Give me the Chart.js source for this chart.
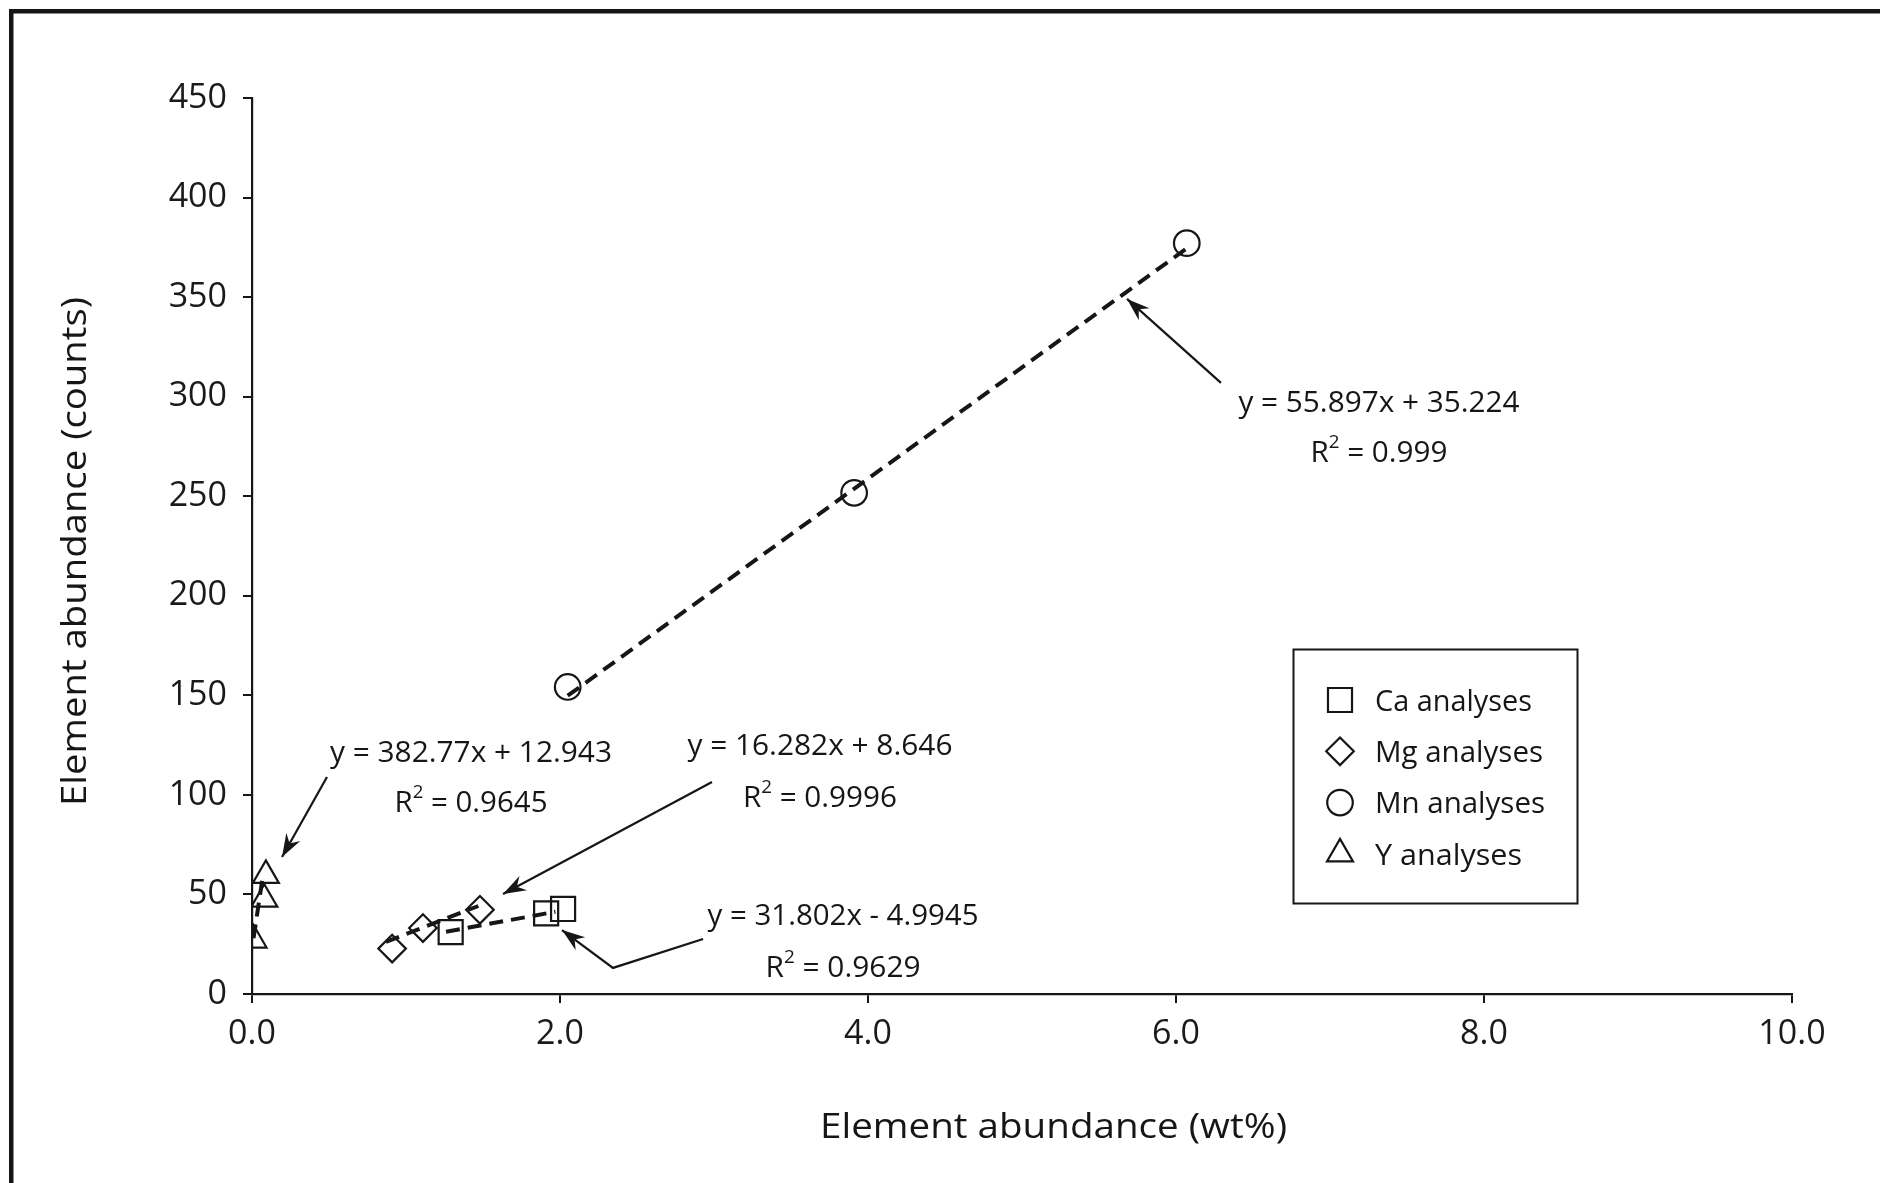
<!DOCTYPE html>
<html>
<head>
<meta charset="utf-8">
<title>Element abundance calibration</title>
<script src="https://cdn.jsdelivr.net/npm/chart.js@4/dist/chart.umd.min.js"></script>
<style>
  html, body { margin: 0; padding: 0; background: #fff; }
  #wrap { position: relative; width: 1880px; height: 1183px; }
</style>
</head>
<body>
<div id="wrap"><canvas id="chart"></canvas></div>
<script>
// analyses (wt%, counts)
const caX = [1.29, 1.91, 2.02];
const caY = [31.1, 40.5, 42.7];
const mgX = [0.91, 1.11, 1.48];
const mgY = [22.8, 33.1, 42.3];
const mnX = [2.05, 3.91, 6.07];
const mnY = [154.2, 251.7, 377.1];
const yX = [0.01, 0.08, 0.09];
const yY = [27.1, 47.6, 59.6];

// trendline end points as drawn
const caFitX = [1.26, 1.97];
const caFitY = [31.3, 41.3];
const mgFitX = [0.87, 1.47];
const mgFitY = [26.2, 44.2];
const mnFitX = [2.05, 6.07];
const mnFitY = [149.8, 374.5];
const yFitX = [0.01, 0.07];
const yFitY = [28, 59];

const xTicks = [0, 2, 4, 6, 8, 10];
const yTicks = [0, 50, 100, 150, 200, 250, 300, 350, 400, 450];

const seriesNames = ['Ca analyses', 'Mg analyses', 'Mn analyses', 'Y analyses'];

// regression labels: Y, Mg, Ca, Mn
const eqLines = ['y = 382.77x + 12.943', 'y = 16.282x + 8.646', 'y = 31.802x - 4.9945', 'y = 55.897x + 35.224'];
const r2Values = ['0.9645', '0.9996', '0.9629', '0.999'];

// where the labels and arrows sit (data units), and text widths in px
const noteLayout = [
  { cx: 1.422, base: [116.5, 91.4], w: [282, 153], arrow: [[0.487, 109.0], [0.195, 68.8]] },
  { cx: 3.688, base: [120.0, 93.9], w: [265, 154], arrow: [[2.987, 106.5], [1.630, 50.2]] },
  { cx: 3.838, base: [34.7, 8.5], w: [271, 155], arrow: [[2.929, 27.6], [2.344, 13.1], [2.013, 32.1]] },
  { cx: 7.318, base: [292.3, 267.2], w: [281, 137], arrow: [[6.292, 306.9], [5.682, 349.1]] }
];

const FONT = '"Open Sans", "Noto Sans", sans-serif';
const INK = '#161616';

const zip = (xs, ys) => xs.map((x, i) => ({ x: x, y: ys[i] }));

function markerSet(label, xs, ys, style, r) {
  return {
    label: label,
    data: zip(xs, ys),
    pointStyle: style,
    pointRadius: r,
    pointBorderWidth: 2.2,
    borderColor: INK,
    backgroundColor: 'rgba(0,0,0,0)',
    showLine: false
  };
}

function fitSet(xs, ys, width) {
  return {
    data: zip(xs, ys),
    showLine: true,
    borderColor: INK,
    borderWidth: width,
    borderDash: [14, 8],
    pointRadius: 0,
    fill: false
  };
}

// draws text runs (superscript aware), squeezed to a target width
function drawRuns(ctx, runs, cx, base, target) {
  let total = 0;
  runs.forEach(r => { ctx.font = r.size + 'px ' + FONT; r.w = ctx.measureText(r.t).width; total += r.w; });
  const k = target ? target / total : 1;
  ctx.save();
  ctx.translate(cx, base);
  ctx.scale(k, 1);
  ctx.textAlign = 'left';
  ctx.textBaseline = 'alphabetic';
  let x = -total / 2;
  runs.forEach(r => {
    ctx.font = r.size + 'px ' + FONT;
    ctx.fillText(r.t, x, -(r.rise || 0));
    x += r.w;
  });
  ctx.restore();
}

function arrowPath(ctx, pts) {
  ctx.beginPath();
  ctx.moveTo(pts[0][0], pts[0][1]);
  for (let i = 1; i < pts.length; i++) ctx.lineTo(pts[i][0], pts[i][1]);
  ctx.lineWidth = 2.2;
  ctx.stroke();
  const [tx, ty] = pts[pts.length - 1];
  const [fx, fy] = pts[pts.length - 2];
  const a = Math.atan2(ty - fy, tx - fx);
  const len = 23, half = 8;
  const bx = tx - len * Math.cos(a), by = ty - len * Math.sin(a);
  const nx = tx - len * 0.68 * Math.cos(a), ny = ty - len * 0.68 * Math.sin(a);
  ctx.beginPath();
  ctx.moveTo(tx, ty);
  ctx.lineTo(bx + half * Math.sin(a), by - half * Math.cos(a));
  ctx.lineTo(nx, ny);
  ctx.lineTo(bx - half * Math.sin(a), by + half * Math.cos(a));
  ctx.closePath();
  ctx.fill();
}

const decorations = {
  id: 'decorations',
  afterDraw(chart) {
    const ctx = chart.ctx;
    const xs = chart.scales.x, ys = chart.scales.y;
    ctx.save();
    ctx.fillStyle = INK;
    ctx.strokeStyle = INK;

    // frame (top and left edges only)
    ctx.fillRect(9, 9, chart.width - 9, 4.5);
    ctx.fillRect(9, 9, 4.5, chart.height - 9);

    // axis titles
    drawRuns(ctx, [{ t: 'Element abundance (wt%)', size: 34 }], 1053.5, 1138, 467);
    ctx.save();
    ctx.translate(86, 551.5);
    ctx.rotate(-Math.PI / 2);
    drawRuns(ctx, [{ t: 'Element abundance (counts)', size: 34 }], 0, 0, 509);
    ctx.restore();

    // regression labels + arrows
    noteLayout.forEach((n, i) => {
      const cx = xs.getPixelForValue(n.cx);
      drawRuns(ctx, [{ t: eqLines[i], size: 30 }], cx, ys.getPixelForValue(n.base[0]), n.w[0]);
      drawRuns(ctx, [
        { t: 'R', size: 30 },
        { t: '2', size: 19, rise: 14 },
        { t: ' = ' + r2Values[i], size: 30 }
      ], cx, ys.getPixelForValue(n.base[1]), n.w[1]);
      arrowPath(ctx, n.arrow.map(p => [xs.getPixelForValue(p[0]), ys.getPixelForValue(p[1])]));
    });

    // legend box
    const box = { x: 1293.5, y: 649.5, w: 284, h: 254 };
    ctx.lineWidth = 2;
    ctx.strokeRect(box.x, box.y, box.w, box.h);
    seriesNames.forEach((name, i) => {
      const ds = chart.data.datasets[i];
      const cy = 700 + i * 51.3;
      ctx.lineWidth = 2.2;
      ctx.fillStyle = 'rgba(0,0,0,0)';
      Chart.helpers.drawPoint(ctx, {
        pointStyle: ds.pointStyle,
        radius: ds.pointRadius,
        rotation: 0,
        borderWidth: 2.2
      }, 1340, cy);
      ctx.fillStyle = INK;
      ctx.font = '30px ' + FONT;
      const w = ctx.measureText(name).width;
      const target = [157, 168, 170, 147][i];
      ctx.save();
      ctx.translate(1375, cy + 10.7);
      ctx.scale(target / w, 1);
      ctx.textAlign = 'left';
      ctx.textBaseline = 'alphabetic';
      ctx.fillText(name, 0, 0);
      ctx.restore();
    });
    ctx.restore();
  }
};

new Chart(document.getElementById('chart'), {
  type: 'scatter',
  data: {
    datasets: [
      markerSet(seriesNames[0], caX, caY, 'rect', 17),
      markerSet(seriesNames[1], mgX, mgY, 'rectRot', 13.8),
      markerSet(seriesNames[2], mnX, mnY, 'circle', 12.8),
      markerSet(seriesNames[3], yX, yY, 'triangle', 15),
      fitSet(caFitX, caFitY, 4),
      fitSet(mgFitX, mgFitY, 4),
      fitSet(mnFitX, mnFitY, 4),
      fitSet(yFitX, yFitY, 4)
    ]
  },
  options: {
    responsive: true,
    maintainAspectRatio: false,
    animation: false,
    events: [],
    layout: { padding: { top: 98, right: 88, left: 0, bottom: 0 } },
    plugins: { legend: { display: false }, tooltip: { enabled: false } },
    scales: {
      x: {
        type: 'linear',
        min: 0,
        max: 10,
        afterBuildTicks: s => { s.ticks = xTicks.map(v => ({ value: v })); },
        afterFit: s => { s.height = 189; },
        border: { display: true, color: INK, width: 2.2 },
        grid: { drawOnChartArea: false, drawTicks: true, tickLength: 9, color: INK, lineWidth: 2 },
        ticks: {
          padding: 11,
          color: '#1a1a1a',
          font: { family: FONT, size: 34 },
          maxRotation: 0,
          callback: v => v.toFixed(1)
        }
      },
      y: {
        type: 'linear',
        min: 0,
        max: 450,
        afterBuildTicks: s => { s.ticks = yTicks.map(v => ({ value: v })); },
        afterFit: s => { s.width = 252; },
        border: { display: true, color: INK, width: 2.2 },
        grid: { drawOnChartArea: false, drawTicks: true, tickLength: 9, color: INK, lineWidth: 2 },
        ticks: {
          padding: 16,
          color: '#1a1a1a',
          font: { family: FONT, size: 34 },
          callback: v => String(v)
        }
      }
    }
  },
  plugins: [decorations]
});
</script>
</body>
</html>
